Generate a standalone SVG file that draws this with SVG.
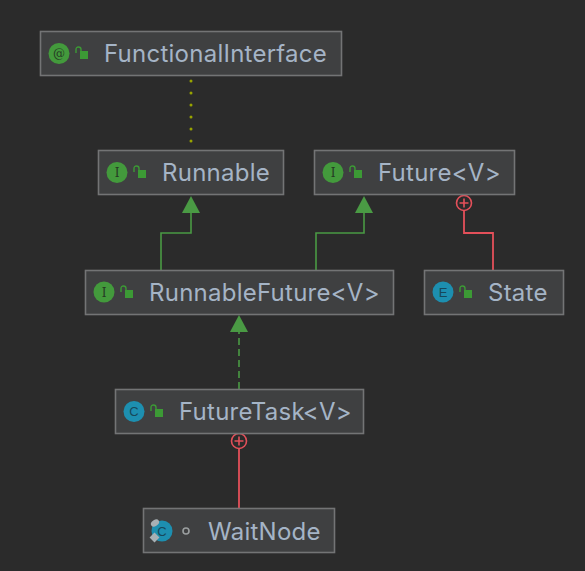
<svg xmlns="http://www.w3.org/2000/svg" width="585" height="571" viewBox="0 0 585 571">
<style>
.box{fill:#3f4041;stroke:#737475;stroke-width:1.6}
.t{font-family:Inter,"Noto Sans",sans-serif;font-size:24px;letter-spacing:.25px;fill:#a5b4c6}
.g{fill:#439a3c}.b{fill:#1d8fb0}
.l{font-family:"DejaVu Serif",serif;font-size:12px;fill:#263a24;text-anchor:middle}
.lb{font-family:"Liberation Sans",sans-serif;font-size:13px;fill:#17485a;text-anchor:middle}
.lk{fill:#3c9a35}.sh{fill:none;stroke:#3c9a35;stroke-width:1.4}
.inh{fill:none;stroke:#4a9a44;stroke-width:1.6}
.own{fill:none;stroke:#e4505a;stroke-width:1.8}
.ar{fill:#4a9a44}
</style>
<defs>
<g id="lock"><rect x="5" y="4" width="8" height="8" class="lk"/><path d="M1 6V2.500Q1 0 3.500 0T6 2.500V4" class="sh"/></g>
<g id="plus"><circle r="7.500" fill="#2b2b2b" stroke="#e4505a" stroke-width="1.600"/><path d="M-4.500 0H4.500M0-4.500V4.500" stroke="#e4505a" stroke-width="1.600"/></g>
</defs>
<rect width="585" height="571" fill="#2b2b2b"/>
<g id="connectors">
<path d="M191 81V142" fill="none" stroke="#98a300" stroke-width="3" stroke-linecap="round" stroke-dasharray="0 12"/>
<path class="inh" d="M161 270V233H191V210"/>
<path class="ar" d="M191 196L182 213H200Z"/>
<path class="inh" d="M316 270V233H364V210"/>
<path class="ar" d="M364 196L355 213H373Z"/>
<path class="inh" d="M239 389V330" stroke-dasharray="7 4"/>
<path class="ar" d="M239 315L230 332H248Z"/>
<path class="own" d="M464 210V233H493V270"/>
<use href="#plus" x="464" y="203"/>
<path class="own" d="M239 448V508"/>
<use href="#plus" x="239" y="441"/>
</g>
<g id="node-functionalinterface"><rect class="box" x="40.500" y="31.500" width="301" height="44"/><circle class="g" cx="59" cy="53.500" r="10.500"/><text class="l" x="59" y="58">@</text><use href="#lock" x="75" y="47"/><text class="t" x="104" y="62">FunctionalInterface</text></g>
<g id="node-runnable"><rect class="box" x="98.500" y="150.500" width="185" height="44"/><circle class="g" cx="117" cy="172.500" r="10.500"/><text class="l" x="117" y="177">I</text><use href="#lock" x="133" y="166"/><text class="t" x="162" y="181">Runnable</text></g>
<g id="node-future"><rect class="box" x="314.500" y="150.500" width="200" height="44"/><circle class="g" cx="333" cy="172.500" r="10.500"/><text class="l" x="333" y="177">I</text><use href="#lock" x="349" y="166"/><text class="t" x="378" y="181">Future&lt;V&gt;</text></g>
<g id="node-runnablefuture"><rect class="box" x="85.500" y="270.500" width="308" height="44"/><circle class="g" cx="104" cy="292" r="10.500"/><text class="l" x="104" y="296.500">I</text><use href="#lock" x="120" y="286"/><text class="t" x="149" y="300.500">RunnableFuture&lt;V&gt;</text></g>
<g id="node-state"><rect class="box" x="424.500" y="270.500" width="139" height="44"/><circle class="b" cx="443" cy="292" r="10.500"/><text class="lb" x="443" y="296.500">E</text><use href="#lock" x="459" y="286"/><text class="t" x="488" y="300.500">State</text></g>
<g id="node-futuretask"><rect class="box" x="115.500" y="389.500" width="248" height="44"/><circle class="b" cx="134" cy="411.500" r="10.500"/><text class="lb" x="134" y="416">C</text><use href="#lock" x="150" y="405"/><text class="t" x="179" y="420">FutureTask&lt;V&gt;</text></g>
<g id="node-waitnode"><rect class="box" x="143.500" y="508.500" width="191" height="44"/><circle class="b" cx="162" cy="531" r="10.500"/><text class="lb" x="162" y="535.500">C</text><ellipse cx="155" cy="523" rx="4.500" ry="3" fill="#a8b0b4" transform="rotate(-35 155 523)"/><rect x="151" y="534" width="7" height="7" fill="#a8b0b4" transform="rotate(45 154.500 537.500)"/><circle cx="186" cy="531" r="3" fill="none" stroke="#9a9e9f" stroke-width="1.600"/><text class="t" x="208" y="539.500">WaitNode</text></g>
</svg>
